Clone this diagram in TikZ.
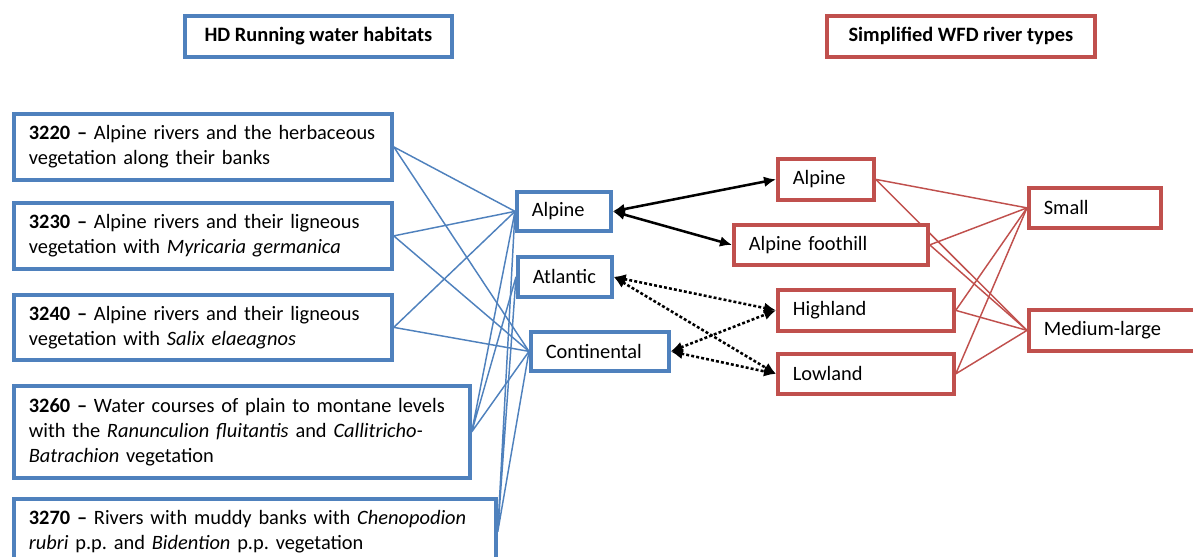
\documentclass[tikz,border=0pt]{standalone}
\usepackage{fontspec}
\setmainfont{Carlito}
\usetikzlibrary{arrows.meta,backgrounds}
\definecolor{hdblue}{RGB}{79,129,189}
\definecolor{wfdred}{RGB}{192,80,77}
\tikzset{
        % boxes of the habitats (blue) and of the river types (red)
        hdbox/.style={draw=hdblue, line width=2.8pt, fill=white, anchor=north west,
            align=left, inner xsep=11.25pt, inner ysep=0pt},
        wfdbox/.style={hdbox, draw=wfdred},
        % links between the boxes
        hdlink/.style={draw=hdblue, line width=1.1pt},
        wfdlink/.style={draw=wfdred, line width=1.1pt},
        maparrow/.style={line width=1.9pt, {Latex[length=9pt,width=8pt]}-{Latex[length=9pt,width=8pt]}},
        mapdots/.style={maparrow, dash pattern=on 2.2pt off 1.6pt}
    }

\begin{document}
\frenchspacing
\begin{tikzpicture}[x=0.75pt,y=0.75pt,yscale=-1]
\fontsize{15.3pt}{18.75pt}\selectfont
\useasboundingbox (0,0) rectangle (1193,557);

% Title Nodes
\node [hdbox, align=center, font=\bfseries, minimum width=200.25pt, minimum height=30.75pt] (hdtitle) at (183,14) {HD Running water habitats};
\node [wfdbox, align=center, font=\bfseries, minimum width=201pt, minimum height=30.75pt] (wfdtitle) at (825,14) {Simplified WFD river types};

% Habitat Nodes
\node [hdbox, text width=261pt, minimum height=49.5pt] (h3220) at (12,112) {\textbf{3220 –} Alpine rivers and the herbaceous\\vegetation along their banks};
\node [hdbox, text width=261pt, minimum height=49.5pt] (h3230) at (12,201) {\textbf{3230 –} Alpine rivers and their ligneous\\vegetation with \textit{Myricaria germanica}};
\node [hdbox, text width=261pt, minimum height=48.75pt] (h3240) at (12,293) {\textbf{3240 –} Alpine rivers and their ligneous\\vegetation with \textit{Salix elaeagnos}};
\node [hdbox, text width=319.5pt, minimum height=69pt] (h3260) at (12,384) {\textbf{3260 –} Water courses of plain to montane levels\\with the \textit{Ranunculion fluitantis} and \textit{Callitricho-}\\\textit{Batrachion} vegetation};
\node [hdbox, text width=339pt, minimum height=49.5pt] (h3270) at (12,497) {\textbf{3270 –} Rivers with muddy banks with \textit{Chenopodion}\\\textit{rubri} p.p. and \textit{Bidention} p.p. vegetation};

% Biogeographical region Nodes
\node [hdbox, text width=48pt, minimum height=29.25pt] (bioAlp) at (515,190) {Alpine};
\node [hdbox, text width=48pt, minimum height=30pt] (bioAtl) at (516,255) {Atlantic};
\node [hdbox, text width=81pt, minimum height=29.25pt] (bioCon) at (529,330) {Continental};

% River type Nodes
\node [wfdbox, text width=49.5pt, minimum height=30.75pt] (rtAlp) at (776,157) {Alpine};
\node [wfdbox, text width=123pt, minimum height=30pt] (rtFoot) at (732,223) {Alpine foothill};
\node [wfdbox, text width=109.5pt, minimum height=30.75pt] (rtHigh) at (776,288) {Highland};
\node [wfdbox, text width=109.5pt, minimum height=30pt] (rtLow) at (776,352) {Lowland};

% Size Nodes
\node [wfdbox, text width=76.5pt, minimum height=30pt] (szSmall) at (1027,186) {Small};
\node [wfdbox, text width=108.75pt, minimum height=30.75pt] (szMed) at (1027,308) {Medium-large};

\begin{scope}[on background layer]
%Straight Lines
\draw [hdlink] (h3220.east) -- (bioAlp.west) (h3220.east) -- (bioCon.west);
\draw [hdlink] (h3230.east) -- (bioAlp.west) (h3230.east) -- (bioCon.west);
\draw [hdlink] (h3240.east) -- (bioAlp.west) (h3240.east) -- (bioCon.west);
\draw [hdlink] (h3260.east) -- (bioAlp.west) (h3260.east) -- (bioAtl.west) (h3260.east) -- (bioCon.west);
\draw [hdlink] (h3270.east) -- (bioAlp.west) (h3270.east) -- (bioAtl.west) (h3270.east) -- (bioCon.west);
%Straight Lines
\draw [wfdlink] (rtAlp.east) -- (szSmall.west) (rtAlp.east) -- (szMed.west);
\draw [wfdlink] (rtFoot.east) -- (szSmall.west) (rtFoot.east) -- (szMed.west);
\draw [wfdlink] (rtHigh.east) -- (szSmall.west) (rtHigh.east) -- (szMed.west);
\draw [wfdlink] (rtLow.east) -- (szSmall.west) (rtLow.east) -- (szMed.west);
\end{scope}

%Arrows
\draw [maparrow] (bioAlp.east) -- (rtAlp.west);
\draw [maparrow] (bioAlp.east) -- (rtFoot.west);
\draw [mapdots] (bioAtl.east) -- (rtHigh.west);
\draw [mapdots] (bioAtl.east) -- (rtLow.west);
\draw [mapdots] (bioCon.east) -- (rtHigh.west);
\draw [mapdots] (bioCon.east) -- (rtLow.west);

\end{tikzpicture}
\end{document}
